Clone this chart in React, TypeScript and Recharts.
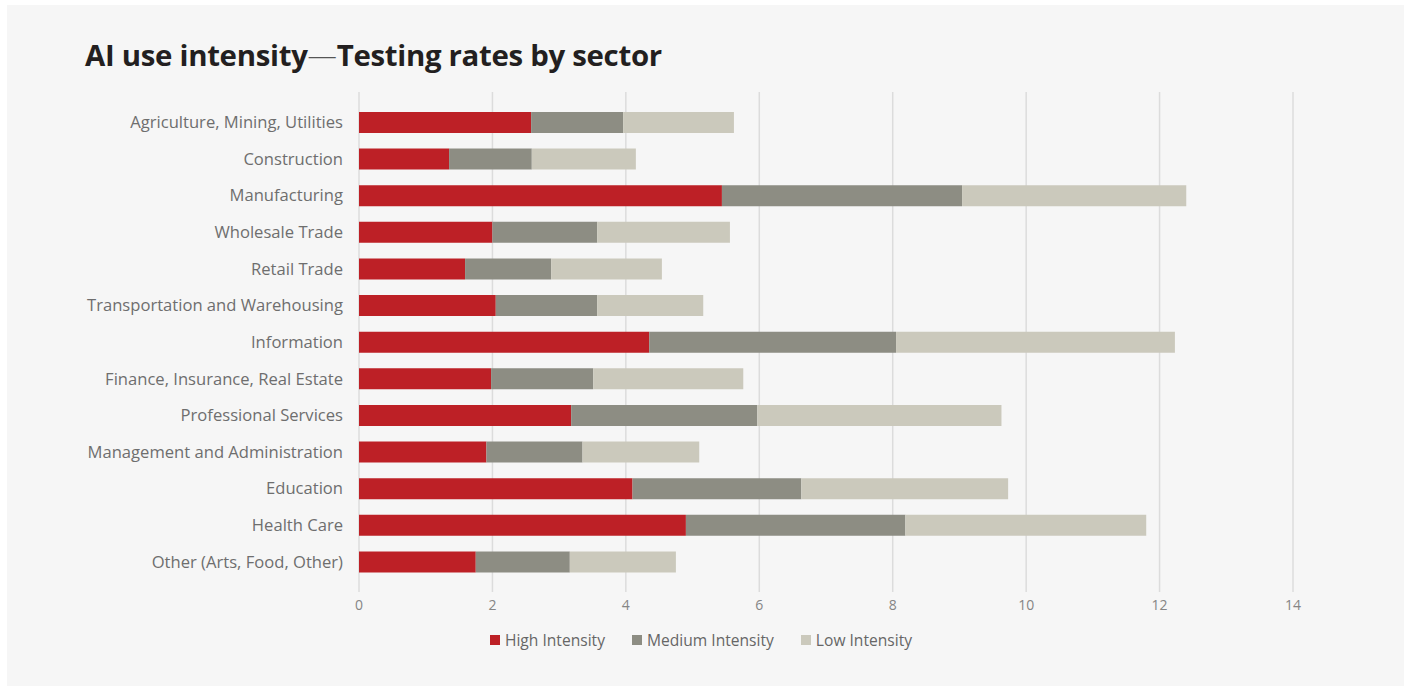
import React from "react";
import { BarChart, Bar, XAxis, YAxis, CartesianGrid, Legend } from "recharts";

const sectors = [
  "Agriculture, Mining, Utilities",
  "Construction",
  "Manufacturing",
  "Wholesale Trade",
  "Retail Trade",
  "Transportation and Warehousing",
  "Information",
  "Finance, Insurance, Real Estate",
  "Professional Services",
  "Management and Administration",
  "Education",
  "Health Care",
  "Other (Arts, Food, Other)",
];

const highIntensity = [2.58, 1.35, 5.44, 2.0, 1.59, 2.05, 4.35, 1.98, 3.18, 1.91, 4.1, 4.9, 1.75];
const mediumIntensity = [1.38, 1.24, 3.6, 1.57, 1.29, 1.52, 3.7, 1.53, 2.79, 1.44, 2.53, 3.29, 1.41];
const lowIntensity = [1.66, 1.56, 3.36, 1.99, 1.66, 1.59, 4.18, 2.25, 3.66, 1.75, 3.1, 3.61, 1.59];

const xTicks = [0, 2, 4, 6, 8, 10, 12, 14];

const series = [
  { key: "high", name: "High Intensity", color: "#bd2026" },
  { key: "medium", name: "Medium Intensity", color: "#8d8d83" },
  { key: "low", name: "Low Intensity", color: "#cbc9bc" },
];

const data = sectors.map((sector, i) => ({
  sector,
  high: highIntensity[i],
  medium: mediumIntensity[i],
  low: lowIntensity[i],
}));

const FONT = "'Open Sans', 'Noto Sans', sans-serif";

function LegendContent() {
  return (
    <div style={{ display: "flex", justifyContent: "center", gap: 27, fontFamily: FONT, paddingRight: 6 }}>
      {series.map((s) => (
        <div key={s.key} style={{ display: "flex", alignItems: "center", gap: 5 }}>
          <span style={{ width: 10, height: 10, background: s.color, display: "inline-block" }} />
          <span style={{ fontSize: 15.6, color: "#666", lineHeight: "20px" }}>{s.name}</span>
        </div>
      ))}
    </div>
  );
}

export default function App() {
  return (
    <div style={{ position: "absolute", left: 0, top: 0, width: 1408, height: 686, background: "#fff" }}>
      <div
        style={{
          position: "absolute",
          left: 7,
          top: 5,
          width: 1397,
          height: 681,
          background: "#f6f6f6",
        }}
      />
      <div
        style={{
          position: "absolute",
          left: 85,
          top: 35,
          fontFamily: FONT,
          fontSize: 29.4,
          fontWeight: 700,
          color: "#231f20",
          letterSpacing: -0.3,
          whiteSpace: "nowrap",
        }}
      >
        AI use intensity
        <span style={{ fontWeight: 300, color: "#555" }}>—</span>
        Testing rates by sector
      </div>
      <div style={{ position: "absolute", left: 0, top: 0 }}>
        <BarChart
          width={1408}
          height={686}
          data={data}
          layout="vertical"
          margin={{ top: 92, right: 115, left: 0, bottom: 44 }}
          barSize={21}
        >
          <CartesianGrid horizontal={false} stroke="#dcdcdc" strokeWidth={1.5} />
          <XAxis
            type="number"
            domain={[0, 14]}
            ticks={xTicks}
            axisLine={false}
            tickLine={false}
            tickSize={0}
            tickMargin={8}
            height={30}
            tick={{ fill: "#858585", fontSize: 14, fontFamily: FONT }}
          />
          <YAxis
            type="category"
            dataKey="sector"
            width={359}
            axisLine={false}
            tickLine={false}
            tickSize={0}
            tickMargin={16}
            padding={{ top: 12, bottom: 12 }}
            interval={0}
            tick={{ fill: "#6e6e6e", fontSize: 16.6, fontFamily: FONT }}
          />
          {series.map((s) => (
            <Bar
              key={s.key}
              dataKey={s.key}
              name={s.name}
              stackId="a"
              fill={s.color}
              isAnimationActive={false}
            />
          ))}
          <Legend
            content={<LegendContent />}
            wrapperStyle={{ position: "absolute", top: 630, left: 0, width: 1408 }}
          />
        </BarChart>
      </div>
    </div>
  );
}
